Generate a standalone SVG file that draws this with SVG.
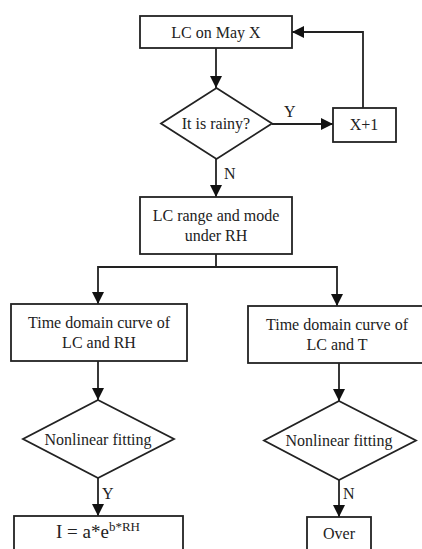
<svg xmlns="http://www.w3.org/2000/svg" width="422" height="549" viewBox="0 0 422 549" font-family="'Liberation Serif', 'DejaVu Serif', serif">
<defs>
<style>
.box{fill:#fff;stroke:#222;stroke-width:1.8}
.ln{fill:none;stroke:#222;stroke-width:1.8}
text{font-family:'Liberation Serif','DejaVu Serif',serif;font-size:16px;fill:#222;text-anchor:middle}
.lbl{text-anchor:start}
</style>
<marker id="ah" viewBox="0 0 12 12" refX="12" refY="6" markerWidth="12" markerHeight="12" markerUnits="userSpaceOnUse" orient="auto">
<path d="M0,0 L12,6 L0,12 z" fill="#111"/>
</marker>
</defs>
<rect width="422" height="549" fill="#fff"/>
<g id="connectors">
<path class="ln" d="M216,48 V88" marker-end="url(#ah)"/>
<path class="ln" d="M272,124 H333" marker-end="url(#ah)"/>
<path class="ln" d="M363,108 V32 H292" marker-end="url(#ah)"/>
<path class="ln" d="M216,159 V197" marker-end="url(#ah)"/>
<path class="ln" d="M216,254 V267 H98 V304"  marker-end="url(#ah)"/>
<path class="ln" d="M216,267 H337 V306" marker-end="url(#ah)"/>
<path class="ln" d="M98,361 V400" marker-end="url(#ah)"/>
<path class="ln" d="M339,363 V401" marker-end="url(#ah)"/>
<path class="ln" d="M98,478 V516" marker-end="url(#ah)"/>
<path class="ln" d="M339,480 V517" marker-end="url(#ah)"/>
<text class="lbl" x="284" y="117">Y</text>
<text class="lbl" x="224" y="179">N</text>
<text class="lbl" x="102" y="499">Y</text>
<text class="lbl" x="343" y="499">N</text>
</g>
<g id="n1"><rect class="box" x="140" y="16" width="152" height="32"/><text x="216" y="38">LC on May X</text></g>
<g id="n2"><path class="box" d="M216.5,88 L272,123.5 L216.5,159 L161,123.5 z"/><text x="216" y="129">It is rainy?</text></g>
<g id="n3"><rect class="box" x="333" y="108" width="63" height="34"/><text x="364" y="130">X+1</text></g>
<g id="n4"><rect class="box" x="140" y="197" width="152" height="57"/><text x="216" y="221">LC range and mode</text><text x="216" y="241">under RH</text></g>
<g id="n5"><rect class="box" x="11" y="304" width="176" height="57"/><text x="99" y="328">Time domain curve of</text><text x="99" y="348">LC and RH</text></g>
<g id="n6"><rect class="box" x="248" y="306" width="180" height="57"/><text x="337" y="330">Time domain curve of</text><text x="337" y="350">LC and T</text></g>
<g id="n7"><path class="box" d="M98,400 L174,439 L98,478 L23,439 z"/><text x="98" y="445">Nonlinear fitting</text></g>
<g id="n8"><path class="box" d="M339,401 L416,440.5 L339,480 L264,440.5 z"/><text x="339" y="446">Nonlinear fitting</text></g>
<g id="n9"><rect class="box" x="14" y="516" width="169" height="40"/><text x="98" y="538" style="font-size:19px">I = a*e<tspan dy="-7" style="font-size:13px">b*RH</tspan></text></g>
<g id="n10"><rect class="box" x="307" y="517" width="64" height="40"/><text x="339" y="539">Over</text></g>
</svg>
